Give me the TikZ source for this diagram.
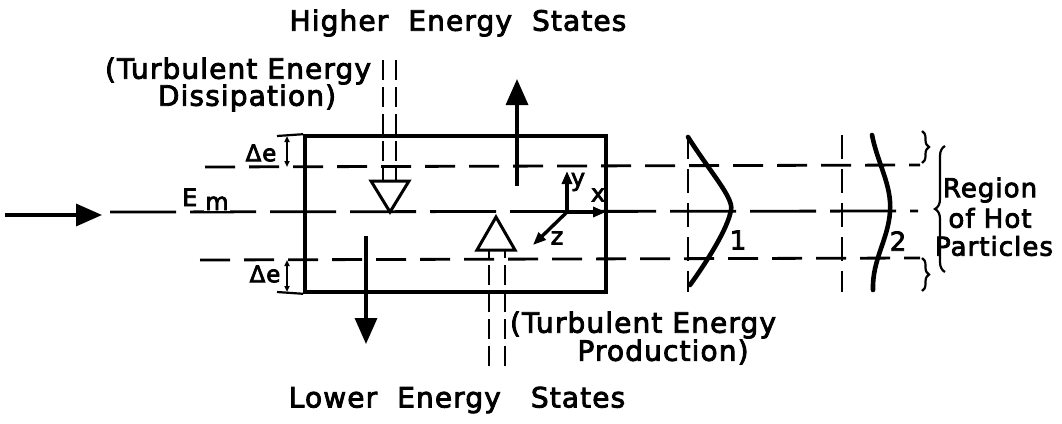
\documentclass[tikz,border=0pt]{standalone}
\usepackage{fontspec}
\setmainfont{DejaVu Sans}[FakeBold=3, LetterSpace=4]
\usetikzlibrary{arrows.meta,decorations.pathreplacing}
\begin{document}
\begin{tikzpicture}[x=1pt,y=-1pt,
  lbl/.style={font=\fontsize{28}{30}\selectfont, inner sep=0pt, align=center},
  boxline/.style={line width=3.6pt},
  levdash/.style={line width=2.8pt, dash pattern=on 30pt off 14pt},
  middash/.style={line width=2.8pt, dash pattern=on 66pt off 14pt},
  vdash/.style={line width=2.8pt, dash pattern=on 24pt off 10pt},
  shaft/.style={line width=2.6pt, dash pattern=on 20pt off 7pt},
  bigarrow/.style={line width=3.4pt, -{Triangle[length=26pt,width=22pt]}},
  hollow/.style={line width=3pt, fill=white, line join=miter},
  curve/.style={line width=4.6pt, line cap=round},
  dim/.style={line width=1.8pt, {Triangle[length=6pt,width=5pt]}-{Triangle[length=6pt,width=5pt]}},
  axis/.style={line width=3.4pt, -{Triangle[length=13pt,width=10pt]}},
  brc/.style={line width=2.2pt, decorate}
]
\useasboundingbox (0,0) rectangle (1062,423);

% level lines
\coordinate (tl) at (205,167);
\coordinate (tr) at (920,165);
\coordinate (ml) at (110,212);
\coordinate (mr) at (918,211);
\coordinate (bl) at (200,260);
\coordinate (br) at (920,258);
\draw[levdash] (tl) -- (tr);
\draw[middash] (ml) -- (mr);
\draw[levdash] (bl) -- (br);

% main box
\node[draw, boxline, minimum width=301pt, minimum height=156pt, inner sep=0pt] (box) at (455.5,214) {};

% incoming arrow
\coordinate (inA) at (5,215);
\coordinate (inB) at (102,215);
\draw[bigarrow] (inA) -- (inB);

% E_m
\node[lbl, anchor=base west, font=\fontsize{24}{26}\selectfont, fill=white, inner sep=1pt] (E) at (181,206) {E};
\node[lbl, anchor=base west, font=\fontsize{24}{26}\selectfont, fill=white, inner sep=1pt] (m) at (204,210) {m};

% Delta e labels
\node[lbl, font=\fontsize{23}{26}\selectfont, fill=white, inner sep=1pt] (de1) at (261,153) {Δe};
\node[lbl, font=\fontsize{23}{26}\selectfont, fill=white, inner sep=1pt] (de2) at (265,274) {Δe};
\coordinate (d1a) at (287,136); \coordinate (d1b) at (287,167);
\coordinate (d2a) at (287,260); \coordinate (d2b) at (287,292);
\draw[dim] (d1a) -- (d1b);
\draw[dim] (d2a) -- (d2b);
\coordinate (t1a) at (277,136); \coordinate (t2a) at (277,292);
\draw[line width=2.2pt] (t1a) -- (box.north west);
\draw[line width=2.2pt] (t2a) -- (box.south west);

% Dissipation arrow (hollow, down)
\coordinate (s1a) at (383,60); \coordinate (s1b) at (383,183);
\coordinate (s2a) at (396,60); \coordinate (s2b) at (396,183);
\draw[shaft] (s1a) -- (s1b);
\draw[shaft] (s2a) -- (s2b);
\coordinate (h1l) at (371,181); \coordinate (h1r) at (409,181); \coordinate (h1t) at (390,212);
\draw[hollow] (h1l) -- (h1r) -- (h1t) -- cycle;

% Production arrow (hollow, up)
\coordinate (s3a) at (489,366); \coordinate (s3b) at (489,248);
\coordinate (s4a) at (505,366); \coordinate (s4b) at (505,248);
\draw[shaft] (s3a) -- (s3b);
\draw[shaft] (s4a) -- (s4b);
\coordinate (h2l) at (477,250); \coordinate (h2r) at (515,250); \coordinate (h2t) at (496,217);
\draw[hollow] (h2l) -- (h2r) -- (h2t) -- cycle;

% solid arrows
\coordinate (upA) at (517,186); \coordinate (upB) at (517,79);
\draw[bigarrow] (upA) -- (upB);
\coordinate (dnA) at (366,236); \coordinate (dnB) at (366,344);
\draw[bigarrow] (dnA) -- (dnB);

% axes
\coordinate (O) at (567,212);
\coordinate (Y) at (567,171);
\coordinate (X) at (606,212);
\coordinate (Z) at (533,245);
\draw[axis] (O) -- (Y);
\draw[axis] (O) -- (X);
\draw[axis] (O) -- (Z);
\node[lbl, font=\fontsize{24}{26}\selectfont] (ly) at (578,182) {y};
\node[lbl, font=\fontsize{24}{26}\selectfont] (lx) at (598,195) {x};
\node[lbl, font=\fontsize{24}{26}\selectfont] (lz) at (557,238) {z};

% profiles
\coordinate (v1a) at (688,135); \coordinate (v1b) at (688,292);
\draw[vdash] (v1a) -- (v1b);
\coordinate (v2a) at (842,135); \coordinate (v2b) at (842,292);
\draw[vdash] (v2a) -- (v2b);
\coordinate (c1a) at (688,137); \coordinate (c1p) at (731,210); \coordinate (c1b) at (690,285);
\draw[curve] (c1a) .. controls (710,172) and (734,198) .. (c1p) .. controls (728,228) and (708,260) .. (c1b);
\node[lbl, font=\fontsize{26}{28}\selectfont] (n1) at (738,240) {1};
\coordinate (c2a) at (872,135); \coordinate (c2b) at (873,290);
\draw[curve] (c2a) .. controls (878,165) and (892,185) .. (890,212) .. controls (888,240) and (872,260) .. (c2b);
\node[lbl, font=\fontsize{26}{28}\selectfont] (n2) at (898,241) {2};

% small braces
\coordinate (sb1a) at (922,131); \coordinate (sb1b) at (922,163);
\draw[brc, decoration={brace, amplitude=7pt}] (sb1a) -- (sb1b);
\coordinate (sb2a) at (922,258); \coordinate (sb2b) at (922,291);
\draw[brc, decoration={brace, amplitude=7pt}] (sb2a) -- (sb2b);

% big brace
\coordinate (bb1) at (945,146); \coordinate (bb2) at (945,272);
\draw[brc, decoration={brace, amplitude=10pt, mirror}] (bb1) -- (bb2);
\node[lbl, font=\fontsize{26}{28}\selectfont] (reg1) at (990,190) {Region};
\node[lbl, font=\fontsize{26}{28}\selectfont] (reg2) at (990,218) {of Hot};
\node[lbl, font=\fontsize{26}{28}\selectfont] (reg3) at (994,246) {Particles};

% texts
\node[lbl] (hi) at (458,23) {Higher\ \ Energy\ \ States};
\node[lbl] (diss1) at (238,71) {(Turbulent Energy};
\node[lbl] (diss2) at (247,98) {Dissipation)};
\node[lbl] (prod1) at (643,325) {(Turbulent\ Energy};
\node[lbl] (prod2) at (663,352) {Production)};
\node[lbl] (lo) at (457,400) {Lower\ \ Energy\ \ \ States};
\end{tikzpicture}
\end{document}
